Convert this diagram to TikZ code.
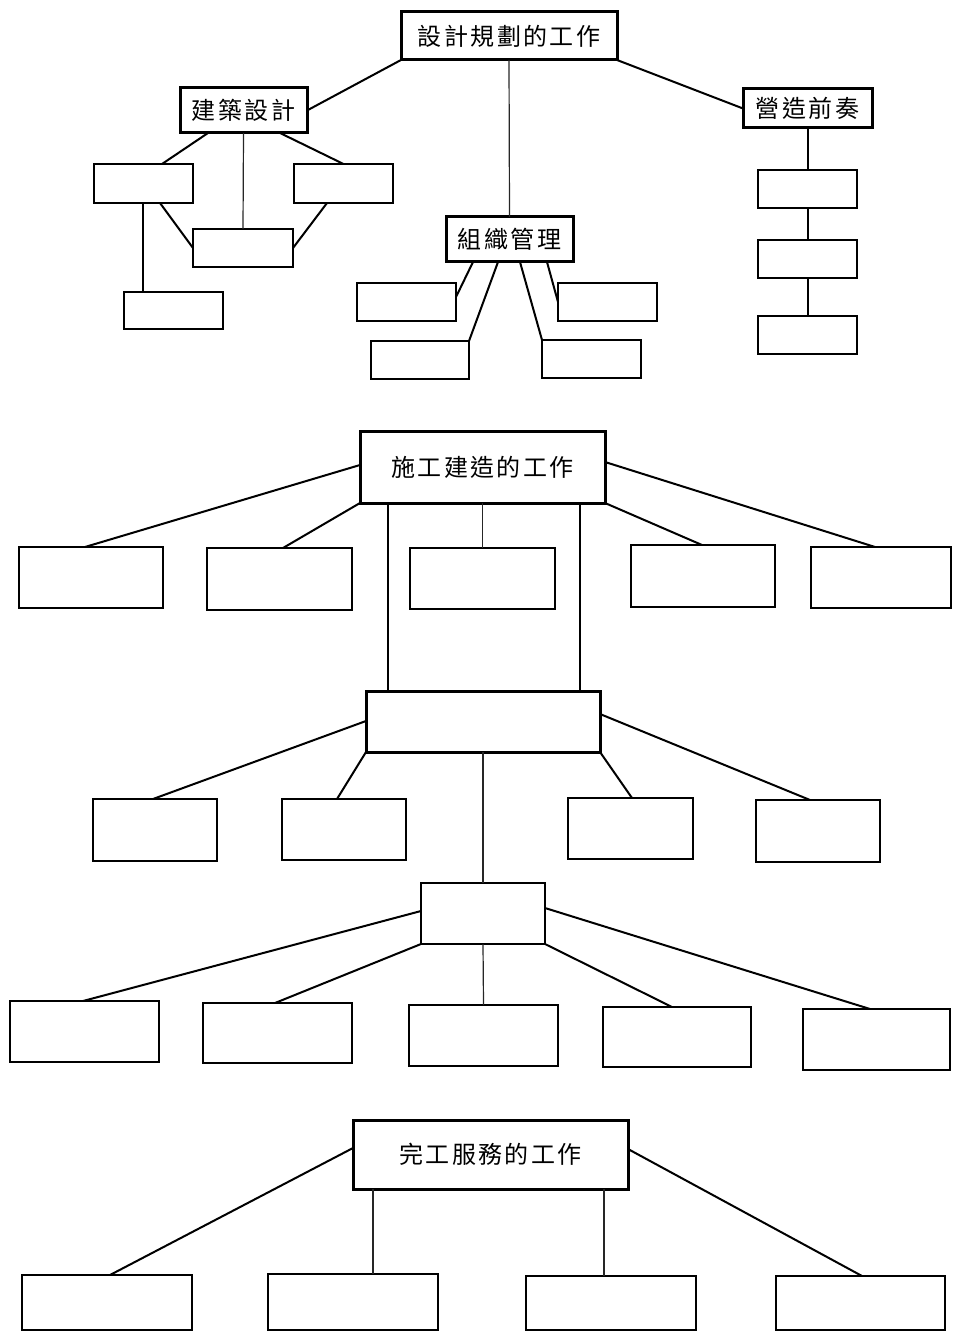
\documentclass[tikz,border=0pt]{standalone}
\usepackage{fontspec}
\newfontfamily\cjk{Noto Sans CJK TC}
\usetikzlibrary{calc}
\tikzset{
  box/.style={draw=black, line width=1pt, rectangle, inner sep=0pt, outer sep=0pt, fill=white,
    font=\cjk\fontsize{12pt}{14pt}\selectfont},
  head/.style={box, line width=1.5pt},
  conn/.style={draw=black, line width=1pt},
  thin/.style={draw=black!85, line width=0.6pt}
}
\newcommand\g{\hspace{1.2pt}}
% [style]{name}{x1}{y1}{x2}{y2}{text}
\newcommand\bx[7][box]{\node[#1,minimum width={(#5-#3)*0.5pt},minimum height={(#6-#4)*0.5pt}] (#2) at ({(#3+#5)/2},{(#4+#6)/2}) {#7};}
\begin{document}
\begin{tikzpicture}[x=0.5pt,y=-0.5pt]
\useasboundingbox (0,0) rectangle (952,1331);
% ---------- top section ----------
\bx[head]{T1}{401}{12}{617}{60}{設\g 計\g 規\g 劃\g 的\g 工\g 作}
\bx[head]{N1}{180}{88}{307}{133}{建\g 築\g 設\g 計}
\bx[head]{N2}{446}{217}{573}{262}{組\g 織\g 管\g 理}
\bx[head]{N3}{743}{89}{872}{128}{營\g 造\g 前\g 奏}
\bx{A1}{94}{164}{193}{203}{}
\bx{A2}{294}{164}{393}{203}{}
\bx{A3}{193}{229}{293}{267}{}
\bx{A4}{124}{292}{223}{329}{}
\bx{B1}{357}{283}{456}{321}{}
\bx{B2}{371}{341}{469}{379}{}
\bx{B3}{542}{340}{641}{378}{}
\bx{B4}{558}{283}{657}{321}{}
\bx{C1}{758}{170}{857}{208}{}
\bx{C2}{758}{240}{857}{278}{}
\bx{C3}{758}{316}{857}{354}{}
\draw[conn] (T1.south west) -- (N1.east);
\draw[thin] (T1.south) -- (N2.north);
\draw[conn] (T1.south east) -- (N3.west);
\draw[conn] ([shift={(28,0)}]N1.south west) -- ([shift={(68,0)}]A1.north west);
\draw[thin] (N1.south) -- (A3.north);
\draw[conn] ([shift={(-27,0)}]N1.south east) -- (A2.north);
\draw[conn] ([shift={(66,0)}]A1.south west) -- (A3.west);
\draw[conn] ([shift={(33,0)}]A2.south west) -- (A3.east);
\draw[conn] ([shift={(49,0)}]A1.south west) -- ([shift={(19,0)}]A4.north west);
\draw[conn] ([shift={(27,0)}]N2.south west) -- ([shift={(0,14)}]B1.north east);
\draw[conn] ([shift={(52,0)}]N2.south west) -- (B2.north east);
\draw[conn] ([shift={(74,0)}]N2.south west) -- (B3.north west);
\draw[conn] ([shift={(101,0)}]N2.south west) -- (B4.west);
\draw[conn] (N3.south) -- (C1.north);
\draw[conn] (C1.south) -- (C2.north);
\draw[conn] (C2.south) -- (C3.north);
% ---------- middle section ----------
\bx[head]{T2}{360}{432}{605}{503}{施\g 工\g 建\g 造\g 的\g 工\g 作}
\bx{D1}{19}{547}{163}{608}{}
\bx{D2}{207}{548}{352}{610}{}
\bx{D3}{410}{548}{555}{609}{}
\bx{D4}{631}{545}{775}{607}{}
\bx{D5}{811}{547}{951}{608}{}
\bx[head]{E}{366}{691}{600}{752}{}
\bx{F1}{93}{799}{217}{861}{}
\bx{F2}{282}{799}{406}{860}{}
\bx{F3}{568}{798}{693}{859}{}
\bx{F4}{756}{800}{880}{862}{}
\bx{G}{421}{883}{545}{944}{}
\bx{H1}{10}{1001}{159}{1062}{}
\bx{H2}{203}{1003}{352}{1063}{}
\bx{H3}{409}{1005}{558}{1066}{}
\bx{H4}{603}{1007}{751}{1067}{}
\bx{H5}{803}{1009}{950}{1070}{}
\draw[conn] ([shift={(0,33)}]T2.north west) -- ([shift={(66,0)}]D1.north west);
\draw[conn] (T2.south west) -- ([shift={(76,0)}]D2.north west);
\draw[thin] (T2.south) -- (D3.north);
\draw[conn] ([shift={(28,0)}]T2.south west) -- ([shift={(22,0)}]E.north west);
\draw[conn] ([shift={(-25,0)}]T2.south east) -- ([shift={(-20,0)}]E.north east);
\draw[conn] (T2.south east) -- ([shift={(71,0)}]D4.north west);
\draw[conn] ([shift={(0,30)}]T2.north east) -- ([shift={(64,0)}]D5.north west);
\draw[conn] ([shift={(0,30)}]E.north west) -- ([shift={(60,0)}]F1.north west);
\draw[conn] (E.south west) -- ([shift={(55,0)}]F2.north west);
\draw[thin] (E.south) -- (G.north);
\draw[conn] (E.south east) -- ([shift={(64,0)}]F3.north west);
\draw[conn] ([shift={(0,23)}]E.north east) -- ([shift={(54,0)}]F4.north west);
\draw[conn] ([shift={(0,28)}]G.north west) -- ([shift={(73,0)}]H1.north west);
\draw[conn] (G.south west) -- ([shift={(72,0)}]H2.north west);
\draw[thin] (G.south) -- (H3.north);
\draw[conn] (G.south east) -- ([shift={(69,0)}]H4.north west);
\draw[conn] ([shift={(0,25)}]G.north east) -- ([shift={(67,0)}]H5.north west);
% ---------- bottom section ----------
\bx[head]{T3}{353}{1120}{628}{1189}{完\g 工\g 服\g 務\g 的\g 工\g 作}
\bx{I1}{22}{1275}{192}{1330}{}
\bx{I2}{268}{1274}{438}{1330}{}
\bx{I3}{526}{1276}{696}{1330}{}
\bx{I4}{776}{1276}{945}{1330}{}
\draw[conn] ([shift={(0,28)}]T3.north west) -- ([shift={(88,0)}]I1.north west);
\draw[thin] ([shift={(20,0)}]T3.south west) -- ([shift={(105,0)}]I2.north west);
\draw[thin] ([shift={(-24,0)}]T3.south east) -- ([shift={(78,0)}]I3.north west);
\draw[conn] ([shift={(0,29)}]T3.north east) -- ([shift={(86,0)}]I4.north west);
\end{tikzpicture}
\end{document}
